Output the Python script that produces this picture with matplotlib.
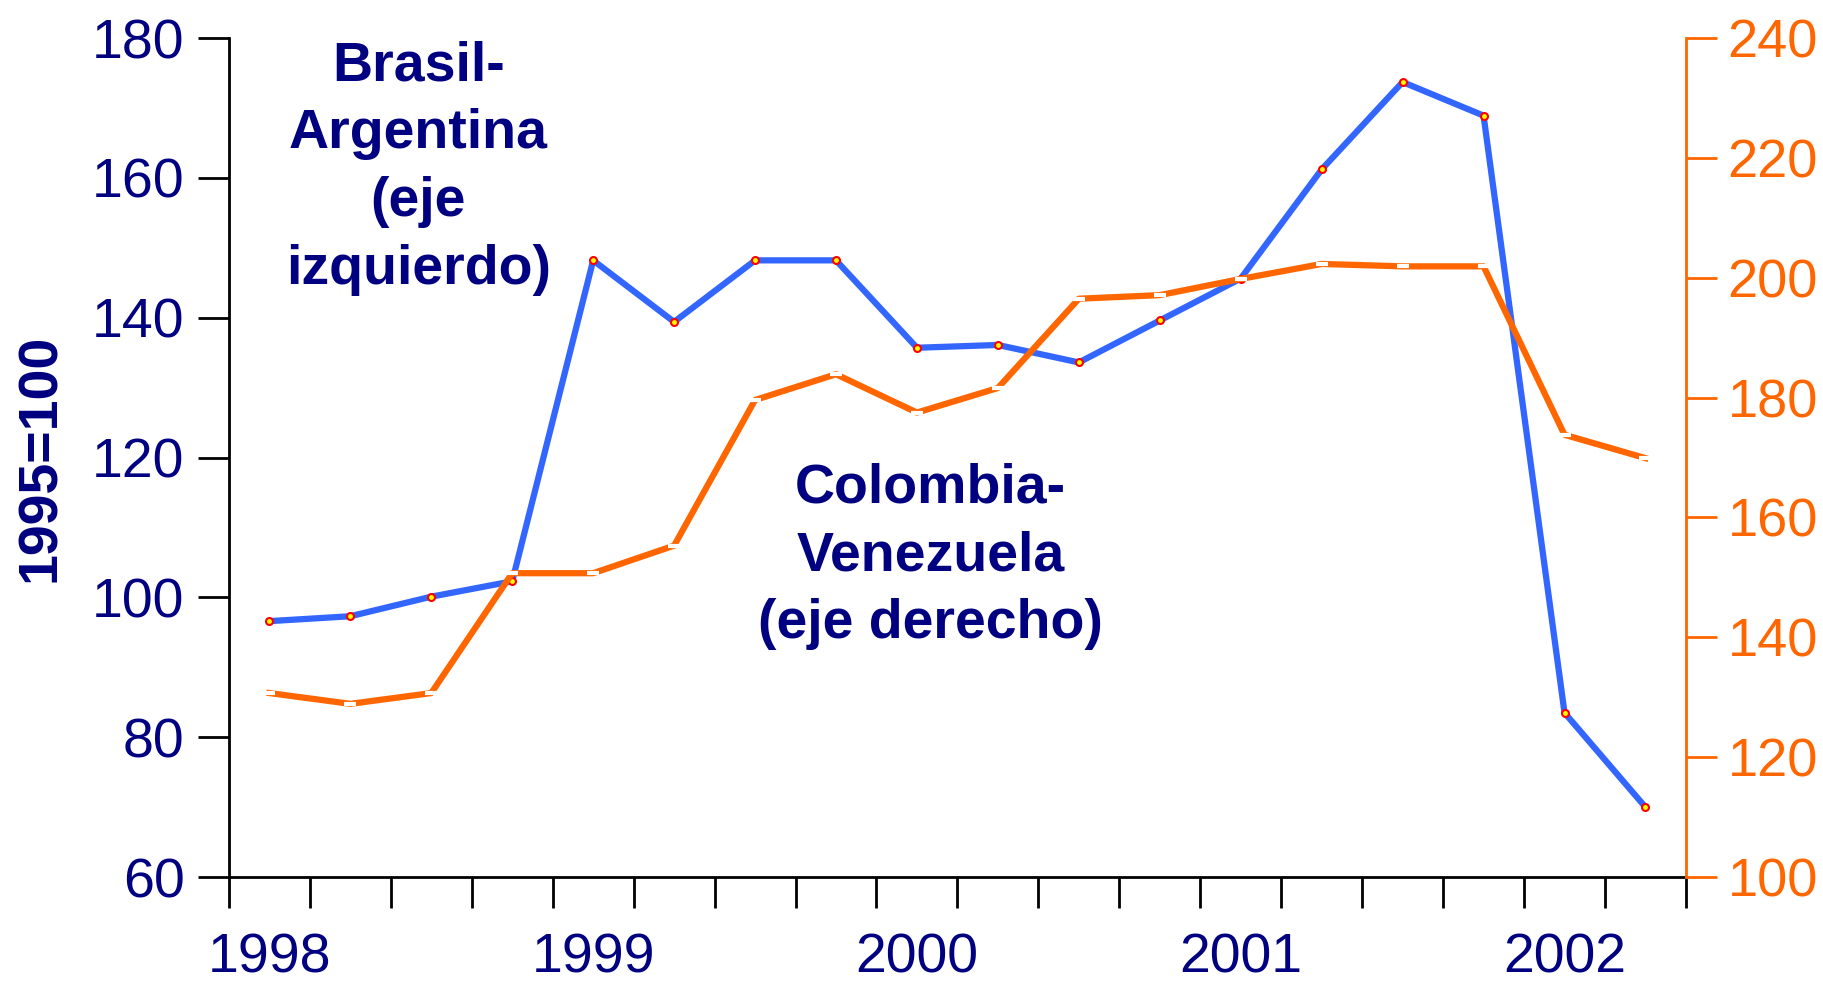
import numpy as np
import matplotlib.pyplot as plt

plt.rcParams['font.family'] = ['Liberation Sans', 'DejaVu Sans']

# quarterly data, 1998Q1 - 2002Q2
quarters = np.arange(18)
year_labels = ['1998', '1999', '2000', '2001', '2002']
year_pos = [0, 4, 8, 12, 16]

# Brasil-Argentina (left axis, 1995=100)
bra_arg = [96.6, 97.3, 100.1, 102.3, 148.2, 139.4, 148.2, 148.2, 135.7,
           136.1, 133.6, 139.6, 145.6, 161.2, 173.7, 168.9, 83.5, 70.0]
# Colombia-Venezuela (right axis)
col_ven = [130.7, 128.9, 130.7, 150.7, 150.7, 155.3, 179.6, 183.9, 177.5,
           181.6, 196.5, 197.1, 199.8, 202.3, 201.9, 201.9, 173.8, 169.9]

navy = '#000080'
blue = '#3366FF'
orange = '#FF6600'

fig = plt.figure(figsize=(18.24, 9.9), dpi=100)
ax = fig.add_axes([0.1255, 0.1141, 0.7988, 0.8475])
ax2 = ax.twinx()

ax.plot(quarters, bra_arg, color=blue, lw=4.5, marker='o', ms=5,
        mfc='yellow', mec='red', mew=1.5, zorder=3)
ax2.plot(quarters, col_ven, color=orange, lw=4.5, marker='_', ms=9,
         mec='white', mew=3, zorder=3)

ax.set_xlim(-0.5, 17.5)
ax.set_ylim(60, 180)
ax2.set_ylim(100, 240)
ax.set_yticks(np.arange(60, 181, 20))
ax2.set_yticks(np.arange(100, 241, 20))

# tick marks between quarters, year labels under the first quarter
ax.set_xticks(np.arange(-0.5, 18, 1))
ax.set_xticklabels([])
ax.set_xticks(year_pos, minor=True)
ax.set_xticklabels(year_labels, minor=True)
ax.tick_params(axis='x', which='major', length=22, width=2, direction='out')
ax.tick_params(axis='x', which='minor', length=0, pad=40, labelsize=40,
               labelcolor=navy)
ax.tick_params(axis='y', length=22, width=2, labelsize=40, labelcolor=navy,
               pad=10)
ax2.tick_params(axis='y', length=22, width=2, labelsize=39, colors=orange,
                pad=8)

for a in (ax, ax2):
    a.spines['top'].set_visible(False)
    a.spines['left'].set_linewidth(2)
    a.spines['bottom'].set_linewidth(2)
    a.spines['right'].set_linewidth(2)
ax2.spines['right'].set_color(orange)
ax2.spines['left'].set_visible(False)
ax2.spines['bottom'].set_visible(False)
ax.spines['right'].set_visible(False)

ax.set_ylabel('1995=100', fontsize=40, fontweight='bold', color=navy,
              labelpad=18)

ax.text(1.84, 161.4, 'Brasil-\nArgentina\n(eje\nizquierdo)', ha='center',
        va='center', fontsize=40, fontweight='bold', color=navy,
        linespacing=1.4)
ax.text(8.17, 105.9, 'Colombia-\nVenezuela\n(eje derecho)', ha='center',
        va='center', fontsize=40, fontweight='bold', color=navy,
        linespacing=1.4)

fig.savefig('out.png', dpi=100)
